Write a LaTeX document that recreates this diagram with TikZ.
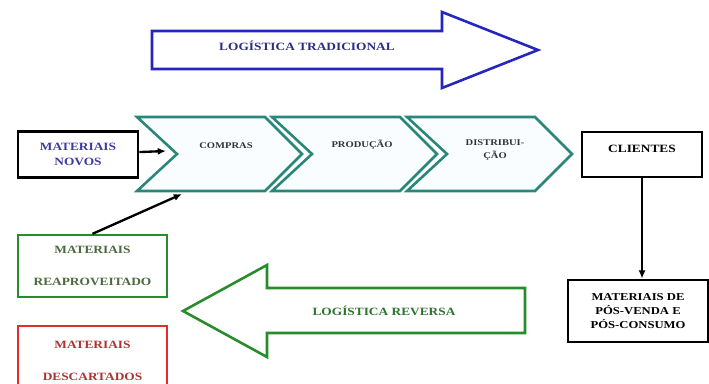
\documentclass[tikz,border=0pt]{standalone}
\usepackage{fontspec}
\setmainfont{Liberation Serif}[FakeStretch=1.2]
\usetikzlibrary{arrows.meta, positioning}

\definecolor{tradblue}{RGB}{38,38,190}
\definecolor{tradtext}{RGB}{45,45,130}
\definecolor{revgreen}{RGB}{40,140,45}
\definecolor{revtext}{RGB}{45,115,45}
\definecolor{chevteal}{RGB}{40,135,120}
\definecolor{novostext}{RGB}{60,60,160}
\definecolor{reaptext}{RGB}{75,105,60}
\definecolor{descred}{RGB}{225,45,45}
\definecolor{desctext}{RGB}{175,50,50}

\begin{document}
\begin{tikzpicture}[x=0.03cm, y=-0.03cm, box/.style={rectangle, draw, line width=2.4pt, align=center, font=\fontsize{9.5}{12.5}\selectfont\bfseries}, chevron/.style={draw=chevteal, line width=2.2pt, fill=cyan!2, line join=miter}, chevtext/.style={align=center, text=black!80, font=\fontsize{7.5}{11}\selectfont\bfseries}, blockarrow/.style={line width=2.2pt, fill=white, line join=miter}, arrow/.style={-{Latex[length=7pt, width=6pt]}, line width=2pt}]
\clip (0,0) rectangle (709,383);

% logistica tradicional
\draw[blockarrow, draw=tradblue] (152,31) -- (442,31) -- (442,12) -- (538,50) -- (442,88) -- (442,69) -- (152,69) -- cycle;
\node[text=tradtext, font=\fontsize{9.5}{12}\selectfont\bfseries] (tradicional) at (307,46) {LOGÍSTICA TRADICIONAL};

% cadeia
\draw[chevron] (137,117) -- (265,117) -- (302,154) -- (265,191) -- (137,191) -- (177,154) -- cycle;
\draw[chevron] (272,117) -- (400,117) -- (437,154) -- (400,191) -- (272,191) -- (312,154) -- cycle;
\draw[chevron] (407,117) -- (535,117) -- (572,154) -- (535,191) -- (407,191) -- (447,154) -- cycle;
\node[chevtext] (compras) at (226,146) {COMPRAS};
\node[chevtext] (producao) at (362,145) {PRODUÇÃO};
\node[chevtext] (distribuicao) at (495,150) {DISTRIBUI-\\ÇÃO};
\coordinate (comprasin) at (166,151);
\coordinate (comprasbase) at (182,194);

\node[box, text=novostext, minimum width=3.6cm, minimum height=1.38cm] (novos) at (78,154.5) {MATERIAIS\\NOVOS};
\node[box, minimum width=3.6cm, minimum height=1.35cm, text depth=10pt] (clientes) at (642,154.5) {CLIENTES};
\node[box, font=\fontsize{9}{12.3}\selectfont\bfseries, minimum width=4.2cm, minimum height=1.86cm] (posconsumo) at (638,311) {MATERIAIS DE\\PÓS-VENDA E\\PÓS-CONSUMO};
\node[box, draw=revgreen, text=reaptext, line width=2pt, minimum width=4.47cm, minimum height=1.86cm] (reaproveitado) at (92.5,266) {MATERIAIS\\[15pt]REAPROVEITADO};
\node[box, draw=descred, text=desctext, line width=2pt, minimum width=4.47cm, minimum height=2.1cm] (descartados) at (92.5,361) {MATERIAIS\\[15pt]DESCARTADOS};

% logistica reversa
\draw[blockarrow, draw=revgreen] (525,288) -- (267,288) -- (267,265) -- (183,311) -- (267,357) -- (267,333) -- (525,333) -- cycle;
\node[text=revtext, font=\fontsize{9.5}{12}\selectfont\bfseries] (reversa) at (384,311) {LOGÍSTICA REVERSA};

\draw[arrow] (novos) -- (comprasin);
\draw[arrow] (reaproveitado.north) -- (comprasbase);
\draw[arrow] (clientes.south) -- (clientes.south |- posconsumo.north);
\end{tikzpicture}
\end{document}
